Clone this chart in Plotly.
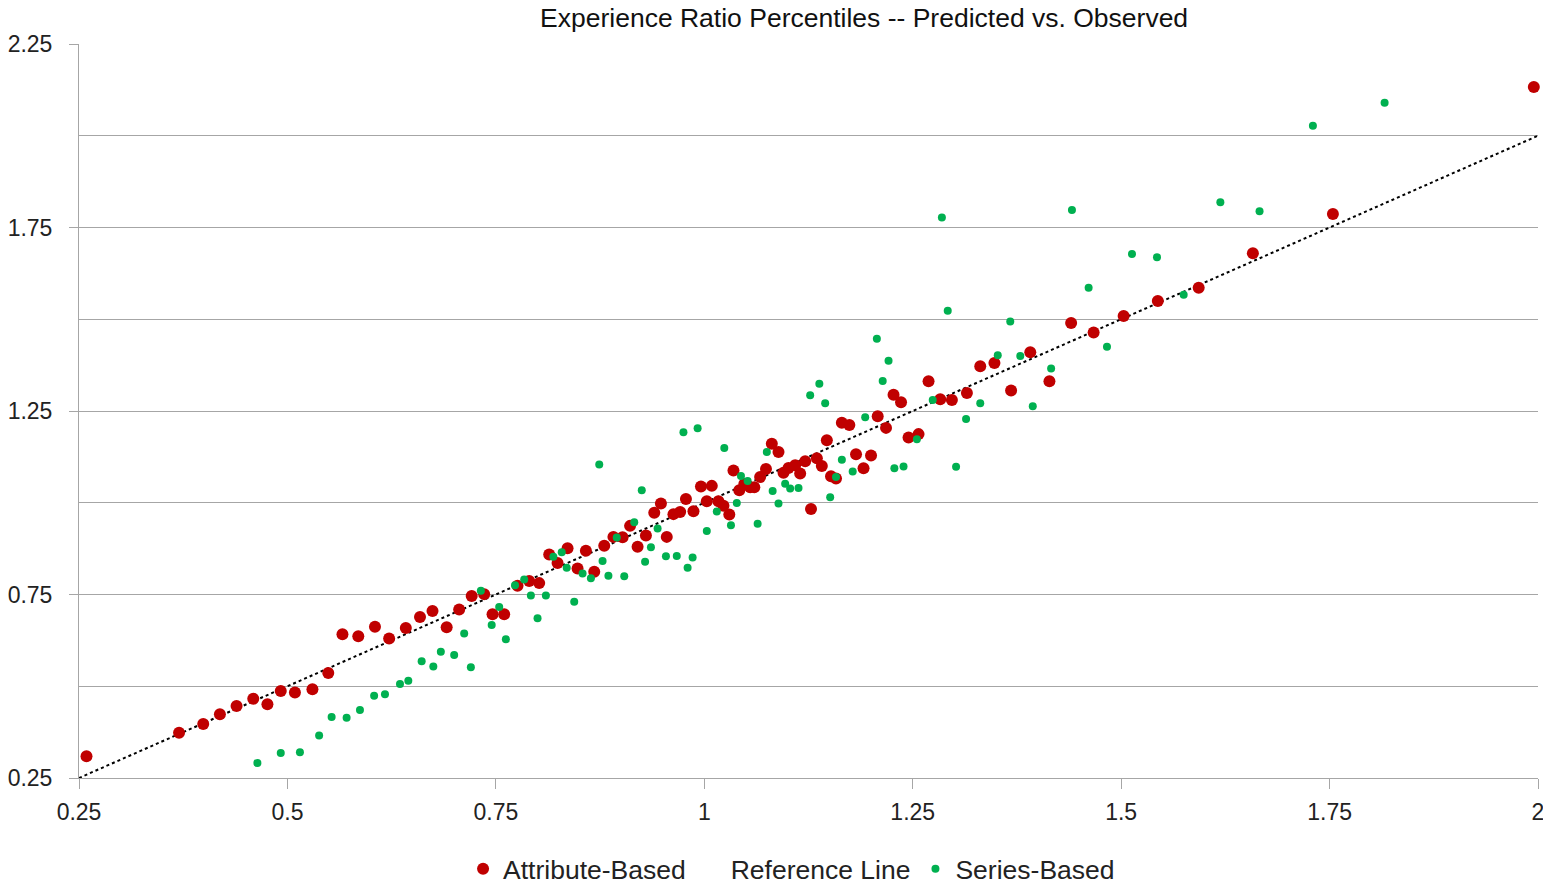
import plotly.graph_objects as go

# Attribute-Based (red) points: predicted (x) vs observed (y)
attr_x = [0.259, 0.370, 0.399, 0.419, 0.439, 0.459, 0.476, 0.492, 0.509, 0.530,
          0.549, 0.566, 0.585, 0.605, 0.622, 0.642, 0.659, 0.674, 0.691, 0.706,
          0.721, 0.736, 0.746, 0.760, 0.776, 0.790, 0.802, 0.814, 0.824, 0.836,
          0.848, 0.858, 0.868, 0.880, 0.891, 0.902, 0.911, 0.920, 0.930, 0.940,
          0.948, 0.955, 0.963, 0.971, 0.978, 0.987, 0.996, 1.003, 1.009, 1.017,
          1.023, 1.030, 1.035, 1.042, 1.048, 1.055, 1.060, 1.067, 1.074, 1.081,
          1.089, 1.095, 1.101, 1.109, 1.115, 1.121, 1.128, 1.135, 1.141, 1.147,
          1.152, 1.158, 1.165, 1.174, 1.182, 1.191, 1.200, 1.208, 1.218, 1.227,
          1.236, 1.245, 1.257, 1.269, 1.283, 1.297, 1.315, 1.331, 1.348, 1.368,
          1.391, 1.414, 1.440, 1.467, 1.503, 1.544, 1.593, 1.658, 1.754, 1.995]
attr_y = [0.309, 0.373, 0.397, 0.424, 0.446, 0.466, 0.451, 0.487, 0.483, 0.492,
          0.536, 0.642, 0.636, 0.662, 0.630, 0.659, 0.689, 0.705, 0.661, 0.709,
          0.746, 0.751, 0.696, 0.696, 0.774, 0.787, 0.781, 0.859, 0.836, 0.876,
          0.821, 0.869, 0.812, 0.883, 0.907, 0.906, 0.937, 0.880, 0.911, 0.973,
          0.998, 0.907, 0.969, 0.975, 1.010, 0.977, 1.044, 1.004, 1.046, 1.004,
          0.992, 0.968, 1.088, 1.034, 1.051, 1.042, 1.042, 1.070, 1.092, 1.161,
          1.138, 1.082, 1.095, 1.102, 1.080, 1.113, 0.983, 1.121, 1.100, 1.170,
          1.072, 1.066, 1.218, 1.212, 1.132, 1.094, 1.129, 1.236, 1.204, 1.294,
          1.274, 1.178, 1.187, 1.331, 1.282, 1.280, 1.299, 1.372, 1.381, 1.306,
          1.410, 1.331, 1.490, 1.464, 1.509, 1.550, 1.586, 1.680, 1.787, 2.133]

# Series-Based (green) points
series_x = [0.464, 0.492, 0.515, 0.538, 0.553, 0.571, 0.587, 0.604, 0.617, 0.635,
            0.645, 0.661, 0.675, 0.684, 0.700, 0.712, 0.720, 0.732, 0.745, 0.754,
            0.762, 0.773, 0.784, 0.792, 0.800, 0.810, 0.819, 0.829, 0.835, 0.844,
            0.854, 0.864, 0.874, 0.878, 0.885, 0.895, 0.904, 0.916, 0.925, 0.929,
            0.936, 0.944, 0.954, 0.967, 0.975, 0.980, 0.986, 0.992, 1.003, 1.015,
            1.024, 1.032, 1.039, 1.044, 1.052, 1.064, 1.075, 1.082, 1.089, 1.097,
            1.103, 1.113, 1.127, 1.138, 1.145, 1.151, 1.158, 1.165, 1.178, 1.193,
            1.207, 1.214, 1.221, 1.228, 1.239, 1.255, 1.274, 1.285, 1.292, 1.302,
            1.314, 1.331, 1.352, 1.367, 1.379, 1.394, 1.416, 1.441, 1.461, 1.483,
            1.513, 1.543, 1.575, 1.619, 1.666, 1.730, 1.816]
series_y = [0.291, 0.318, 0.320, 0.366, 0.416, 0.414, 0.435, 0.474, 0.478, 0.506,
            0.515, 0.568, 0.554, 0.594, 0.585, 0.644, 0.552, 0.760, 0.667, 0.716,
            0.628, 0.775, 0.791, 0.747, 0.685, 0.747, 0.853, 0.865, 0.823, 0.730,
            0.807, 0.794, 1.104, 0.841, 0.801, 0.905, 0.800, 0.947, 1.034, 0.839,
            0.879, 0.930, 0.854, 0.855, 1.192, 0.823, 0.851, 1.203, 0.923, 0.976,
            1.149, 0.939, 0.999, 1.073, 1.059, 0.943, 1.138, 1.032, 0.998, 1.052,
            1.039, 1.040, 1.293, 1.324, 1.271, 1.015, 1.070, 1.117, 1.085, 1.233,
            1.447, 1.332, 1.387, 1.094, 1.099, 1.173, 1.280, 1.777, 1.523, 1.098,
            1.228, 1.271, 1.402, 1.494, 1.400, 1.263, 1.366, 1.798, 1.586, 1.425,
            1.678, 1.669, 1.567, 1.819, 1.794, 2.027, 2.090]

# Reference line (y = x)
ref_x = [0.25, 2.0]
ref_y = [0.25, 2.0]

x_ticks = [0.25, 0.5, 0.75, 1.0, 1.25, 1.5, 1.75, 2.0]
x_ticktext = ["0.25", "0.5", "0.75", "1", "1.25", "1.5", "1.75", "2"]
y_ticks = [0.25, 0.75, 1.25, 1.75, 2.25]
y_ticktext = ["0.25", "0.75", "1.25", "1.75", "2.25"]

FONT = "Liberation Sans"
RED = "#C00000"
GREEN = "#00B050"
GRID = "#A6A6A6"

fig = go.Figure()
fig.add_trace(go.Scatter(x=ref_x, y=ref_y, mode="lines", showlegend=False,
                         line=dict(color="black", width=2, dash="dot"),
                         hoverinfo="skip", cliponaxis=False))
fig.add_trace(go.Scatter(x=attr_x, y=attr_y, mode="markers", name="Attribute-Based",
                         marker=dict(color=RED, size=12, line=dict(width=0)),
                         cliponaxis=False))
fig.add_trace(go.Scatter(x=[None], y=[None], mode="markers", name="Reference Line",
                         marker=dict(color="rgba(0,0,0,0)", size=1)))
fig.add_trace(go.Scatter(x=series_x, y=series_y, mode="markers", name="Series-Based",
                         marker=dict(color=GREEN, size=8, line=dict(width=0)),
                         cliponaxis=False))

fig.update_layout(
    width=1543, height=887,
    margin=dict(l=79, r=5, t=44, b=109, autoexpand=False),
    paper_bgcolor="white", plot_bgcolor="white",
    font=dict(family=FONT, color="#222222", size=23),
    title=dict(text="Experience Ratio Percentiles -- Predicted vs. Observed",
               x=0.56, xref="container", xanchor="center",
               y=0.98, yref="container", yanchor="middle",
               font=dict(family=FONT, size=26.5, color="#111111")),
    legend=dict(orientation="h", x=0.513, xanchor="center", xref="container",
                y=-0.124, yref="paper", yanchor="middle",
                font=dict(family=FONT, size=26.5, color="#222222"),
                itemsizing="trace"),
    showlegend=True,
)
fig.update_xaxes(range=[0.25, 2.0], tickvals=x_ticks, ticktext=x_ticktext,
                 showgrid=False, zeroline=False, showline=True, linecolor=GRID,
                 linewidth=1, ticks="outside", ticklen=10, tickcolor=GRID,
                 ticklabelstandoff=3, tickfont=dict(size=23), automargin=False,
                 ticklabeloverflow="allow")
fig.update_yaxes(range=[0.25, 2.25], tickvals=y_ticks, ticktext=y_ticktext,
                 showgrid=True, gridcolor=GRID, gridwidth=1, zeroline=False,
                 showline=True, linecolor=GRID, linewidth=1,
                 ticks="outside", ticklen=9, tickcolor=GRID,
                 ticklabelstandoff=12, tickfont=dict(size=23), automargin=False,
                 minor=dict(tickvals=[0.5, 1.0, 1.5, 2.0], showgrid=True,
                            gridcolor=GRID, gridwidth=1, ticks=""))

fig.write_html("out.html",
               config={"displayModeBar": False},
               post_script="document.body.style.margin='0';document.body.style.overflow='hidden';")
